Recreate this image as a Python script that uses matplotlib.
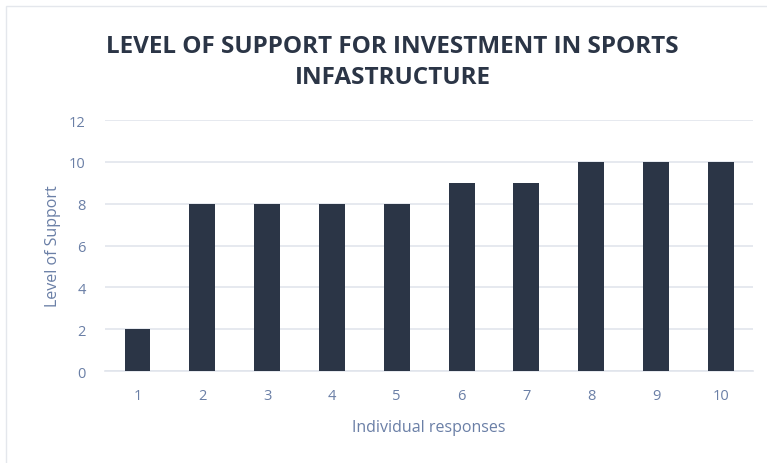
import matplotlib.pyplot as plt
from matplotlib.patches import Rectangle

responses = ["1", "2", "3", "4", "5", "6", "7", "8", "9", "10"]
support = [2, 8, 8, 8, 8, 9, 9, 10, 10, 10]
y_ticks = [0, 2, 4, 6, 8, 10, 12]

bar_color = "#2b3546"
text_color = "#6a7fa6"
grid_color = "#e1e5ec"

plt.rcParams["font.family"] = ["Open Sans", "DejaVu Sans"]

fig = plt.figure(figsize=(7.67, 4.64), dpi=100)
ax = fig.add_axes([0.137, 0.198, 0.845, 0.541])

x = list(range(1, len(responses) + 1))
ax.bar(x, support, width=0.4, color=bar_color, zorder=3)

ax.set_xlim(0.5, len(responses) + 0.5)
ax.set_ylim(0, 12)
ax.set_xticks(x)
ax.set_xticklabels(responses)
ax.set_yticks(y_ticks)

ax.grid(axis="y", color=grid_color, linewidth=1.2, zorder=0)
for side in ["top", "right", "left"]:
    ax.spines[side].set_visible(False)
ax.spines["bottom"].set_color(grid_color)
ax.spines["bottom"].set_linewidth(1.2)
ax.tick_params(axis="both", length=0, colors=text_color, labelsize=10.5)
ax.tick_params(axis="x", pad=12)
ax.tick_params(axis="y", pad=14)

ax.set_xlabel("Individual responses", color=text_color, fontsize=11.5, labelpad=12)
ax.set_ylabel("Level of Support", color=text_color, fontsize=11.5, labelpad=6)

fig.text(0.512, 0.865, "LEVEL OF SUPPORT FOR INVESTMENT IN SPORTS\nINFASTRUCTURE",
         ha="center", va="center", fontsize=17.5, fontweight="bold",
         color="#2b3546", linespacing=1.38)

# light frame around the chart area
fig.patches.append(Rectangle((0.008, -0.02), 1.1, 1.005, transform=fig.transFigure,
                             fill=False, edgecolor="#e4e7ec", linewidth=1.0))

fig.savefig("out.png", dpi=100)
